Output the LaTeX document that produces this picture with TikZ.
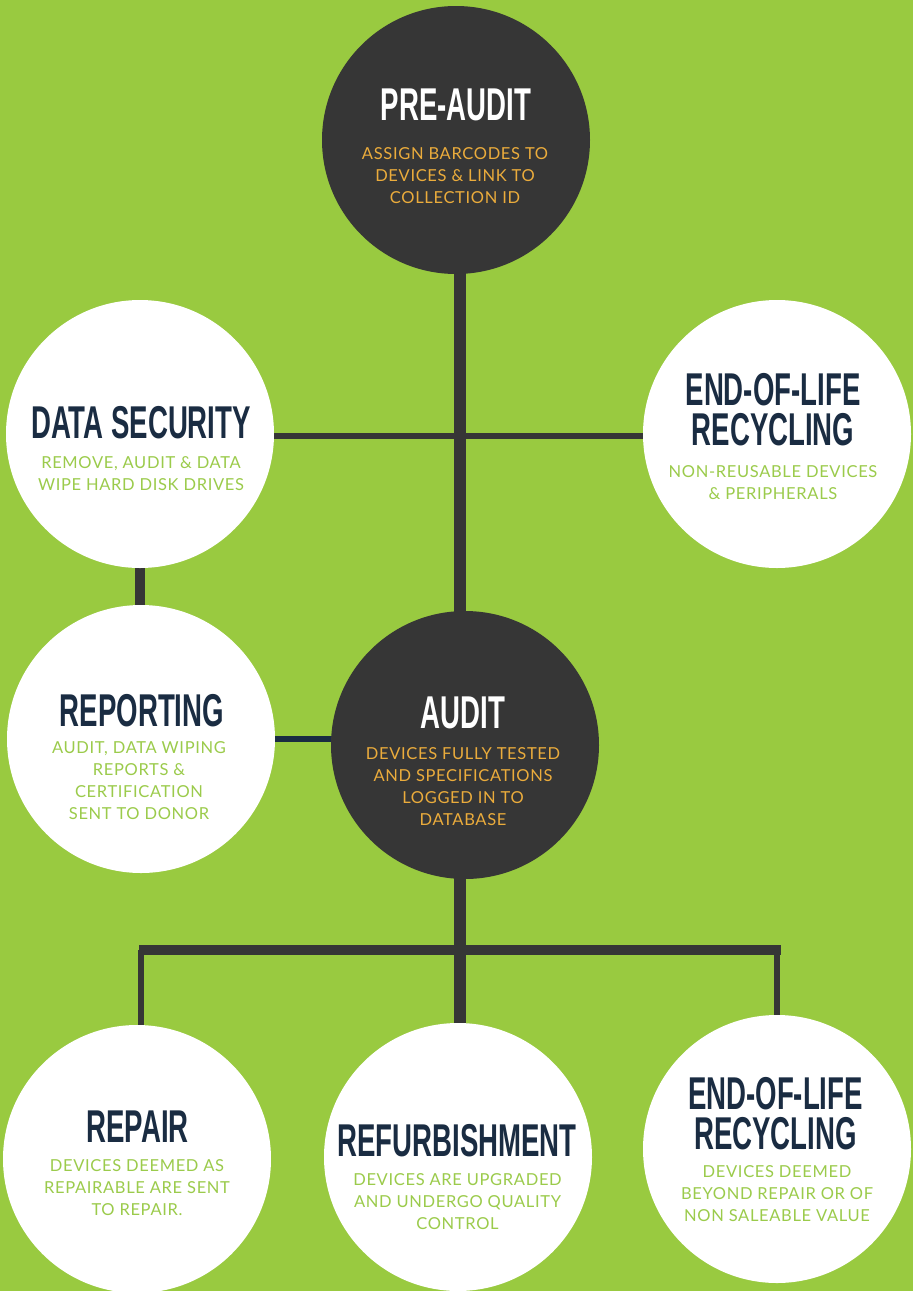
\documentclass[tikz,border=0pt]{standalone}
\usepackage{fontspec}
\setmainfont{Lato}
\newfontfamily\titlefont[FakeStretch=0.6]{Liberation Sans}
\newfontfamily\bodyfont[LetterSpace=4]{Lato}
\usetikzlibrary{calc,backgrounds}
\definecolor{bggreen}{RGB}{153,202,64}
\definecolor{darkgray}{RGB}{54,54,54}
\definecolor{navy}{RGB}{26,44,66}
\definecolor{gold}{RGB}{235,172,60}
\definecolor{ltgreen}{RGB}{155,203,75}
\tikzset{
  circ/.style={circle,minimum size=268pt,inner sep=0pt,draw=none},
  darkc/.style={circ,fill=darkgray},
  whitec/.style={circ,fill=white},
  ttl/.style={font=\titlefont\bfseries\fontsize{46}{40}\selectfont,align=center,inner sep=0pt,anchor=base},
  sub/.style={font=\bodyfont\fontsize{16.5}{22}\selectfont,align=center,inner sep=0pt,anchor=base},
  conn/.style={draw=darkgray,line cap=butt},
}
\begin{document}
\begin{tikzpicture}[x=1pt,y=-1pt]
\useasboundingbox (0,0) rectangle (913,1291);
% circles
\node[darkc] (pre) at (456,140) {};
\node[whitec] (ds) at (140,434) {};
\node[whitec] (eol1) at (777,434) {};
\node[whitec] (rep) at (141,739) {};
\node[darkc] (audit) at (465,745) {};
\node[whitec] (repair) at (137,1159) {};
\node[whitec] (refurb) at (458,1157) {};
\node[whitec] (eol2) at (777,1149) {};
\coordinate (spine) at (460,0);
\coordinate (hline) at (0,436);
\coordinate (bus) at (0,950);
\coordinate (dsdrop) at (140,0);
% connectors
\begin{pgfonlayer}{background}
\fill[bggreen] (0,0) rectangle (913,1291);
\draw[conn,line width=12pt] (pre.center -| spine) -- (audit.center -| spine);
\draw[conn,line width=6pt] (ds.center |- hline) -- (eol1.center |- hline);
\draw[conn,line width=10pt] (ds.center -| dsdrop) -- (rep.center -| dsdrop);
\draw[conn,draw=navy,line width=6pt] (rep.center) -- (rep.center -| audit.center);
\draw[conn,line width=12pt] (audit.center -| spine) -- (refurb.center -| spine);
\draw[conn,line width=10pt] ([xshift=2pt]repair.center |- bus) -- ([xshift=4pt]eol2.center |- bus);
\draw[conn,line width=6pt] ([xshift=4pt]repair.center |- bus) -- ([xshift=4pt]repair.center);
\draw[conn,line width=6pt] (eol2.center |- bus) -- (eol2.center);
\end{pgfonlayer}
% texts (base anchor = baseline of the last line)
\node[ttl,text=white] (preT) at (456,120) {PRE-AUDIT};
\node[sub,text=gold] (preS) at (455,203) {ASSIGN BARCODES TO\\DEVICES \& LINK TO\\COLLECTION ID};
\node[ttl,text=navy] (dsT) at (141,438.5) {DATA SECURITY};
\node[sub,text=ltgreen] (dsS) at (141,490) {REMOVE, AUDIT \& DATA\\WIPE HARD DISK DRIVES};
\node[ttl,text=navy] (eol1T) at (773,445.5) {END-OF-LIFE\\RECYCLING};
\node[sub,text=ltgreen] (eol1S) at (773,499) {NON-REUSABLE DEVICES\\\& PERIPHERALS};
\node[ttl,text=navy] (repT) at (142,726.5) {REPORTING};
\node[sub,text=ltgreen] (repS) at (139,819) {AUDIT, DATA WIPING\\REPORTS \&\\CERTIFICATION\\SENT TO DONOR};
\node[ttl,text=white] (auditT) at (463,728.5) {AUDIT};
\node[sub,text=gold] (auditS) at (463,825) {DEVICES FULLY TESTED\\AND SPECIFICATIONS\\LOGGED IN TO\\DATABASE};
\node[ttl,text=navy] (repairT) at (137.5,1142.5) {REPAIR};
\node[sub,text=ltgreen] (repairS) at (137,1215) {DEVICES DEEMED AS\\REPAIRABLE ARE SENT\\TO REPAIR.};
\node[ttl,text=navy] (refurbT) at (457,1156.5) {REFURBISHMENT};
\node[sub,text=ltgreen] (refurbS) at (457.5,1229) {DEVICES ARE UPGRADED\\AND UNDERGO QUALITY\\CONTROL};
\node[ttl,text=navy] (eol2T) at (775.5,1149.5) {END-OF-LIFE\\RECYCLING};
\node[sub,text=ltgreen] (eol2S) at (777,1221) {DEVICES DEEMED\\BEYOND REPAIR OR OF\\NON SALEABLE VALUE};
\end{tikzpicture}
\end{document}
